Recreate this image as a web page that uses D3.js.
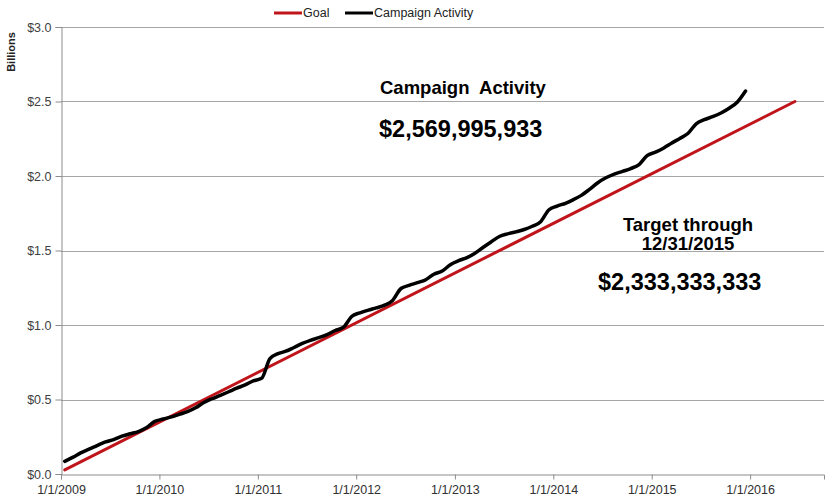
<!DOCTYPE html>
<html>
<head>
<meta charset="utf-8">
<script src="https://cdn.jsdelivr.net/npm/d3@7"></script>
<style>
  body { margin: 0; background: #fff; }
  svg { display: block; font-family: "Liberation Sans", Arial, sans-serif; }
</style>
</head>
<body>
<div id="chart"></div>
<script>
var W = 827, H = 504;
var margin = { left: 61, right: 3, top: 27, bottom: 30 };

// campaign activity, monthly (mid-month), Jan 2009 - Dec 2015, $ billions
var campaignValues = [
  0.085, 0.113, 0.142, 0.167, 0.191, 0.215, 0.231, 0.254, 0.270, 0.285, 0.312, 0.353,
  0.369, 0.383, 0.400, 0.418, 0.444, 0.480, 0.505, 0.528, 0.552, 0.576, 0.598, 0.625,
  0.642, 0.775, 0.806, 0.824, 0.849, 0.876, 0.897, 0.915, 0.936, 0.963, 0.985, 1.057,
  1.082, 1.100, 1.115, 1.133, 1.165, 1.245, 1.266, 1.284, 1.304, 1.341, 1.362, 1.405,
  1.432, 1.452, 1.480, 1.520, 1.557, 1.594, 1.612, 1.625, 1.641, 1.663, 1.693, 1.772,
  1.798, 1.817, 1.840, 1.870, 1.910, 1.955, 1.988, 2.013, 2.031, 2.050, 2.077, 2.137,
  2.160, 2.188, 2.220, 2.252, 2.285, 2.350, 2.378, 2.398, 2.423, 2.455, 2.497, 2.570
];
var campaignDates = campaignValues.map(function(v, i) { return new Date(2009, i, 15); });

// goal line end points
var goalDates = ["2009-01-15", "2016-06-15"];
var goalValues = [0.028, 2.5];

var yTicks = [0, 0.5, 1.0, 1.5, 2.0, 2.5, 3.0];
var yTickLabels = ["$0.0", "$0.5", "$1.0", "$1.5", "$2.0", "$2.5", "$3.0"];
var xTickYears = [2009, 2010, 2011, 2012, 2013, 2014, 2015, 2016];
var xTickLabels = ["1/1/2009", "1/1/2010", "1/1/2011", "1/1/2012", "1/1/2013", "1/1/2014", "1/1/2015", "1/1/2016"];

var seriesNames = ["Goal", "Campaign Activity"];
var seriesColors = ["#c0141b", "#000000"];

var parse = d3.timeParse("%Y-%m-%d");

var svg = d3.select("#chart").append("svg")
  .attr("width", W)
  .attr("height", H);

var x = d3.scaleTime()
  .domain([new Date(2009, 0, 1), new Date(2016, 9, 1)])
  .range([margin.left, W - margin.right]);

var y = d3.scaleLinear()
  .domain([0, 3])
  .range([H - margin.bottom, margin.top]);

// gridlines
svg.append("g")
  .selectAll("line")
  .data(yTicks.slice(1))
  .enter()
  .append("line")
  .attr("x1", margin.left)
  .attr("x2", W - margin.right)
  .attr("y1", function(d) { return Math.round(y(d)) + 0.5; })
  .attr("y2", function(d) { return Math.round(y(d)) + 0.5; })
  .attr("stroke", "#a6a6a6")
  .attr("stroke-width", 1);

// y axis
var yAxis = svg.append("g")
  .attr("transform", "translate(" + (margin.left + 0.5) + ",0)")
  .call(d3.axisLeft(y)
    .tickValues(yTicks)
    .tickSize(6)
    .tickPadding(4)
    .tickFormat(function(d, i) { return yTickLabels[i]; }));
yAxis.select(".domain").attr("stroke", "#8c8c8c");
yAxis.selectAll(".tick line").attr("stroke", "#8c8c8c");
yAxis.selectAll("text")
  .attr("fill", "#404040")
  .style("font-size", "12.5px")
  .style("font-family", "Liberation Sans, Arial, sans-serif");

// x axis
var xAxis = svg.append("g")
  .attr("transform", "translate(0," + (Math.round(y(0)) + 0.5) + ")")
  .call(d3.axisBottom(x)
    .tickValues(xTickYears.map(function(yr) { return new Date(yr, 0, 1); }))
    .tickSize(5)
    .tickPadding(6)
    .tickFormat(function(d, i) { return xTickLabels[i]; }));
xAxis.select(".domain").attr("stroke", "#8c8c8c");
xAxis.selectAll(".tick line").attr("stroke", "#8c8c8c");
xAxis.selectAll("text")
  .attr("fill", "#303030")
  .style("font-size", "12.5px")
  .style("font-family", "Liberation Sans, Arial, sans-serif");

// y title
svg.append("text")
  .attr("transform", "translate(15,52) rotate(-90)")
  .attr("text-anchor", "middle")
  .attr("font-size", "11px")
  .attr("font-weight", "bold")
  .attr("fill", "#222")
  .text("Billions");

// lines
var line = d3.line()
  .x(function(d) { return x(d[0]); })
  .y(function(d) { return y(d[1]); });

svg.append("path")
  .datum(goalDates.map(function(d, i) { return [parse(d), goalValues[i]]; }))
  .attr("d", line)
  .attr("fill", "none")
  .attr("stroke", seriesColors[0])
  .attr("stroke-width", 3)
  .attr("stroke-linecap", "round");

svg.append("path")
  .datum(campaignDates.map(function(d, i) { return [d, campaignValues[i]]; }))
  .attr("d", line.curve(d3.curveMonotoneX))
  .attr("fill", "none")
  .attr("stroke", seriesColors[1])
  .attr("stroke-width", 3.5)
  .attr("stroke-linejoin", "round")
  .attr("stroke-linecap", "round");

// legend
var legendX = [274, 345];
var legend = svg.append("g")
  .selectAll("g")
  .data(seriesNames)
  .enter()
  .append("g")
  .attr("transform", function(d, i) { return "translate(" + legendX[i] + ",13)"; });

legend.append("line")
  .attr("x1", 0).attr("x2", 28)
  .attr("stroke", function(d, i) { return seriesColors[i]; })
  .attr("stroke-width", 3);

legend.append("text")
  .attr("x", 29)
  .attr("dy", "0.35em")
  .attr("font-size", "12.5px")
  .attr("fill", "#222")
  .text(function(d) { return d; });

// annotations
var notes = svg.append("g").attr("font-weight", "bold").attr("fill", "#000");

notes.append("text")
  .attr("x", 380).attr("y", 94)
  .attr("font-size", "18.5px")
  .attr("xml:space", "preserve")
  .style("white-space", "pre")
  .text("Campaign  Activity");

notes.append("text")
  .attr("x", 379).attr("y", 137)
  .attr("font-size", "23.5px")
  .text("$2,569,995,933");

notes.append("text")
  .attr("x", 688).attr("y", 231)
  .attr("text-anchor", "middle")
  .attr("font-size", "18.5px")
  .text("Target through");

notes.append("text")
  .attr("x", 688).attr("y", 250)
  .attr("text-anchor", "middle")
  .attr("font-size", "18.5px")
  .text("12/31/2015");

notes.append("text")
  .attr("x", 598).attr("y", 290)
  .attr("font-size", "23.5px")
  .text("$2,333,333,333");
</script>
</body>
</html>
